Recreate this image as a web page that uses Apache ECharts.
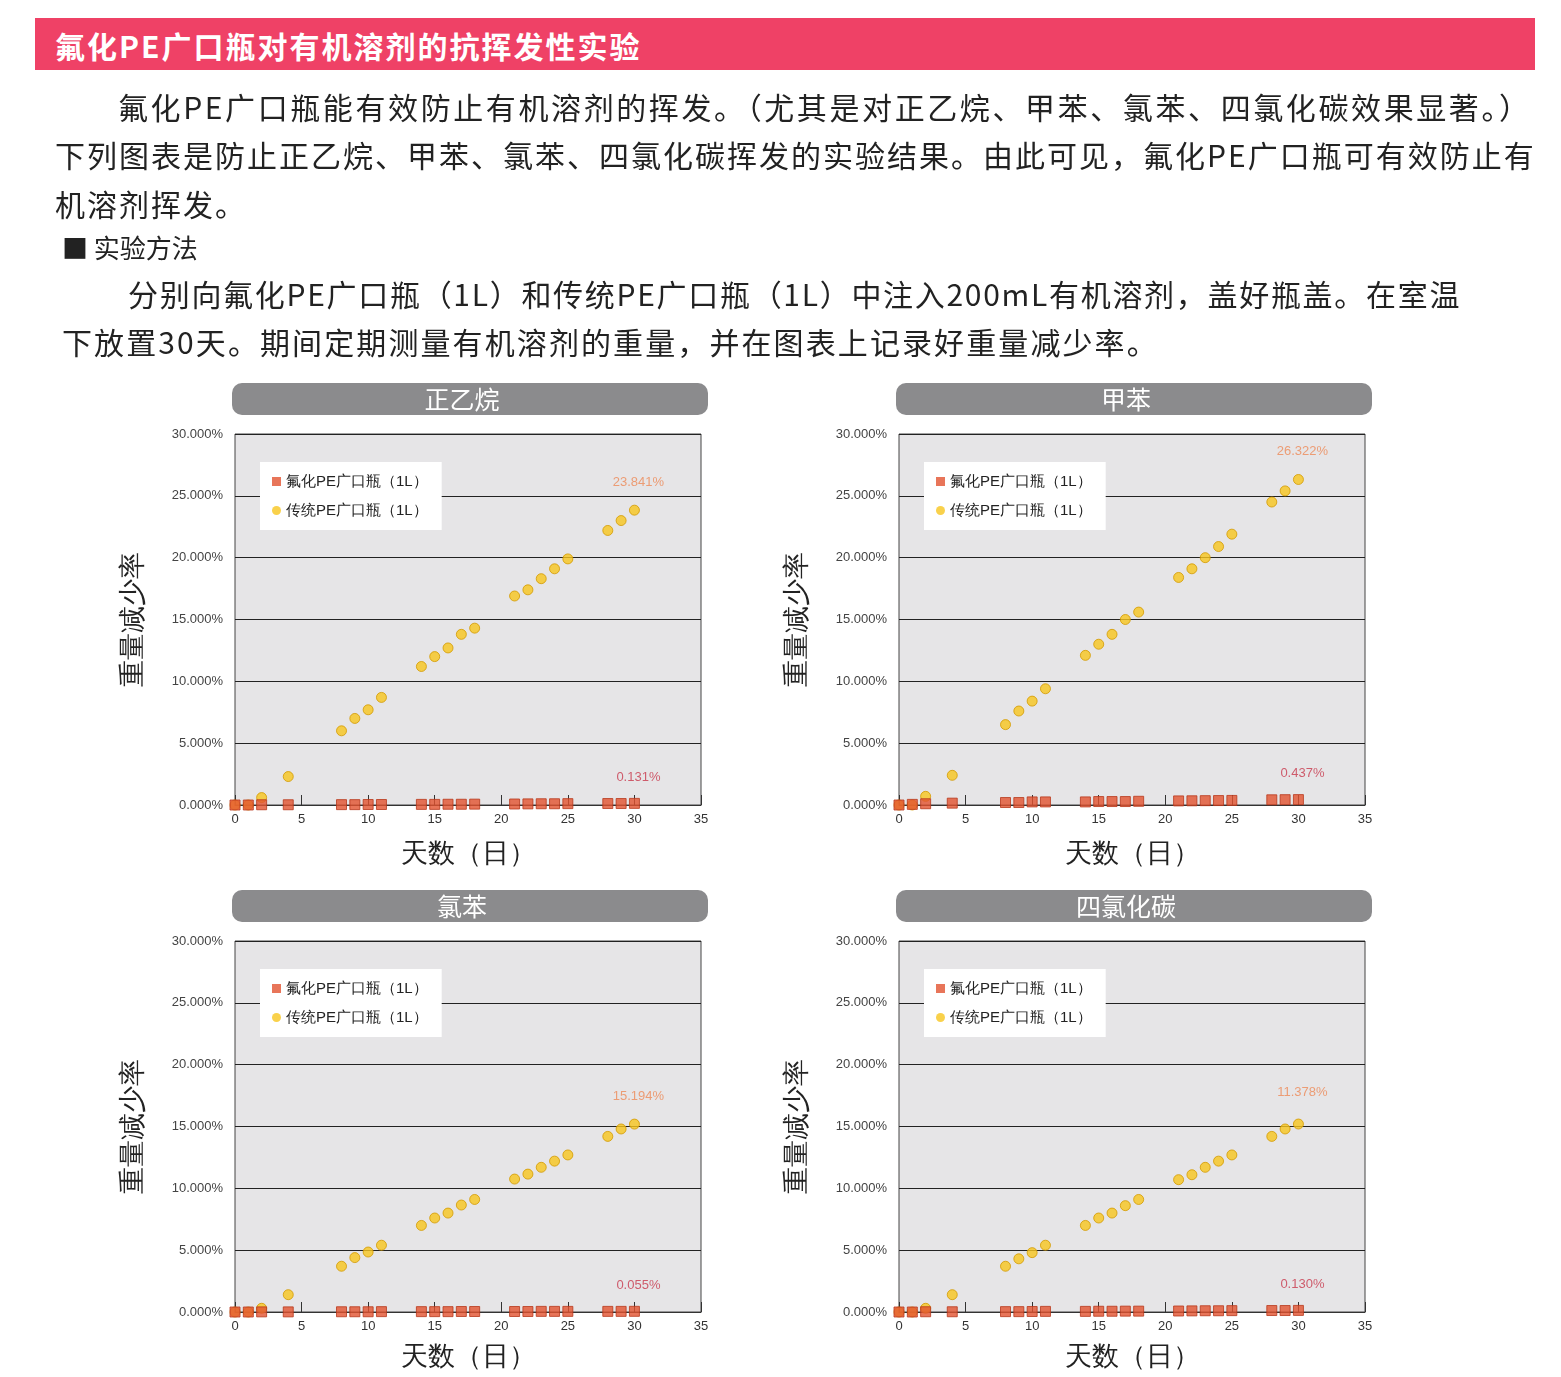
<!DOCTYPE html>
<html><head><meta charset="utf-8">
<script src="https://cdn.jsdelivr.net/npm/echarts@6/dist/echarts.min.js"></script>
<style>
body{margin:0;background:#fff;font-family:"Noto Sans CJK SC","Noto Sans",sans-serif;}
#wrap{position:relative;width:1561px;height:1377px;}
#c{position:absolute;left:0;top:0;width:1561px;height:1377px;}
.t{position:absolute;color:#222;white-space:nowrap;letter-spacing:2px;}
#bar{position:absolute;left:35px;top:18px;width:1500px;height:52px;background:#ef4166;}
#bar span{position:absolute;left:20px;top:5px;color:#fff;font-size:30px;font-weight:bold;letter-spacing:2px;}
</style></head><body>
<div id="wrap">
<div id="c"></div>
<div id="bar"><span>氟化PE广口瓶对有机溶剂的抗挥发性实验</span></div>
<div class="t" style="left:118px;top:84px;font-size:30px;letter-spacing:2.6px;">氟化PE广口瓶能有效防止有机溶剂的挥发。（尤其是对正乙烷、甲苯、氯苯、四氯化碳效果显著。）</div>
<div class="t" style="left:55px;top:132px;font-size:30px;">下列图表是防止正乙烷、甲苯、氯苯、四氯化碳挥发的实验结果。由此可见，氟化PE广口瓶可有效防止有</div>
<div class="t" style="left:55px;top:181px;font-size:30px;">机溶剂挥发。</div>
<div class="t" style="left:62px;top:228px;font-size:26px;letter-spacing:0;">■ 实验方法</div>
<div class="t" style="left:128px;top:271px;font-size:30px;letter-spacing:1.7px;">分别向氟化PE广口瓶（1L）和传统PE广口瓶（1L）中注入200mL有机溶剂，盖好瓶盖。在室温</div>
<div class="t" style="left:62px;top:319px;font-size:30px;letter-spacing:2.1px;">下放置30天。期间定期测量有机溶剂的重量，并在图表上记录好重量减少率。</div>
</div>
<script>
const days = [0,1,2,4,8,9,10,11,14,15,16,17,18,21,22,23,24,25,28,29,30];
const titles = ['正乙烷','甲苯','氯苯','四氯化碳'];
const fluorLabels = ['0.131%','0.437%','0.055%','0.130%'];
const tradLabels = ['23.841%','26.322%','15.194%','11.378%'];
const fluor1 = [0,0,0.02,0.02,0.03,0.03,0.04,0.04,0.05,0.05,0.06,0.06,0.07,0.08,0.09,0.10,0.10,0.11,0.12,0.12,0.131];
const trad1 = [0,0,0.6,2.3,6.0,7.0,7.7,8.7,11.2,12.0,12.7,13.8,14.3,16.9,17.4,18.3,19.1,19.9,22.2,23.0,23.841];
const fluor2 = [0,0.05,0.1,0.15,0.2,0.2,0.25,0.25,0.25,0.28,0.28,0.28,0.3,0.33,0.34,0.35,0.36,0.37,0.42,0.43,0.437];
const trad2 = [0,0,0.7,2.4,6.5,7.6,8.4,9.4,12.1,13.0,13.8,15.0,15.6,18.4,19.1,20.0,20.9,21.9,24.5,25.4,26.322];
const fluor3 = [0,0,0.01,0.01,0.02,0.02,0.02,0.03,0.03,0.03,0.03,0.04,0.04,0.04,0.04,0.05,0.05,0.05,0.05,0.05,0.055];
const trad3 = [0,0,0.3,1.4,3.7,4.4,4.85,5.4,7.0,7.6,8.0,8.65,9.1,10.75,11.15,11.7,12.2,12.7,14.2,14.8,15.194];
const fluor4 = [0,0,0.02,0.02,0.03,0.03,0.04,0.05,0.05,0.06,0.06,0.07,0.07,0.08,0.09,0.10,0.10,0.11,0.12,0.12,0.130];
const trad4 = [0,0,0.3,1.4,3.7,4.3,4.8,5.4,7.0,7.6,8.0,8.6,9.1,10.7,11.1,11.7,12.2,12.7,14.2,14.8,15.2];
const fluor = [fluor1,fluor2,fluor3,fluor4];
const trad = [trad1,trad2,trad3,trad4];

const pos = [[235,434],[899,434],[235,941],[899,941]];
const W = 466, H = 371;
const grid=[],xAxis=[],yAxis=[],series=[],legend=[],graphic=[];
pos.forEach((p,i)=>{
  grid.push({left:p[0],top:p[1],width:W,height:H,show:true,backgroundColor:'#e6e5e7',borderColor:'#444',borderWidth:1});
  xAxis.push({gridIndex:i,type:'value',min:0,max:35,interval:5,
    axisLine:{onZero:false,lineStyle:{color:'#333'}},axisTick:{inside:true,length:10,lineStyle:{color:'#333'}},
    splitLine:{show:false},axisLabel:{color:'#333',fontSize:13,margin:8,fontFamily:'Liberation Sans'},
    name:'天数（日）',nameLocation:'middle',nameGap:i<2?36:32,nameTextStyle:{fontSize:27,color:'#222'}});
  yAxis.push({gridIndex:i,type:'value',min:0,max:30,interval:5,
    axisLine:{show:false},axisTick:{show:false},splitLine:{lineStyle:{color:'#222',width:1}},
    axisLabel:{color:'#444',fontSize:13,margin:12,fontFamily:'Liberation Sans',formatter:v=>v.toFixed(3)+'%'},
    name:'重量减少率',nameLocation:'middle',nameGap:88,nameTextStyle:{fontSize:27,color:'#222'}});
  const mk=(arr,lab,col,ofs)=>days.map((d,j)=>j===days.length-1?{value:[d,arr[j]],label:{show:true,formatter:lab,position:'top',distance:ofs,offset:[4,0],color:col,fontSize:13,fontFamily:'Liberation Sans'}}:[d,arr[j]]);
  series.push({type:'scatter',name:'氟化PE广口瓶（1L）',xAxisIndex:i,yAxisIndex:i,symbol:'rect',symbolSize:10,
    itemStyle:{color:'#e2532f',borderColor:'#b8381c',borderWidth:1},data:mk(fluor[i],fluorLabels[i],'#c8384c',14),z:3});
  series.push({type:'scatter',name:'传统PE广口瓶（1L）',xAxisIndex:i,yAxisIndex:i,symbol:'circle',symbolSize:10,
    itemStyle:{color:'#f7c51e',borderColor:'#d39a00',borderWidth:1},data:mk(trad[i],tradLabels[i],'#ee8a58',i===3?20:16),z:2});
  legend.push({left:p[0]+25,top:p[1]+28,orient:'vertical',backgroundColor:'#fff',padding:[12,14,12,12],itemGap:14,
    itemWidth:9,itemHeight:9,itemStyle:{borderWidth:0},textStyle:{fontSize:15,color:'#222'},
    data:[{name:'氟化PE广口瓶（1L）',icon:'rect'},{name:'传统PE广口瓶（1L）',icon:'circle'}]});
  const tx=p[0]-3, ty=p[1]-51;
  graphic.push({type:'rect',x:tx,y:ty,shape:{width:476,height:32,r:10},style:{fill:'#8b8b8d'}});
  graphic.push({type:'text',x:tx+230,y:ty+16,style:{text:titles[i],fill:'#fff',font:'25px "Noto Sans CJK SC"',textAlign:'center',textVerticalAlign:'middle'}});
});
const chart=echarts.init(document.getElementById('c'));
chart.setOption({animation:false,grid,xAxis,yAxis,series,legend,graphic});
</script>
</body></html>
